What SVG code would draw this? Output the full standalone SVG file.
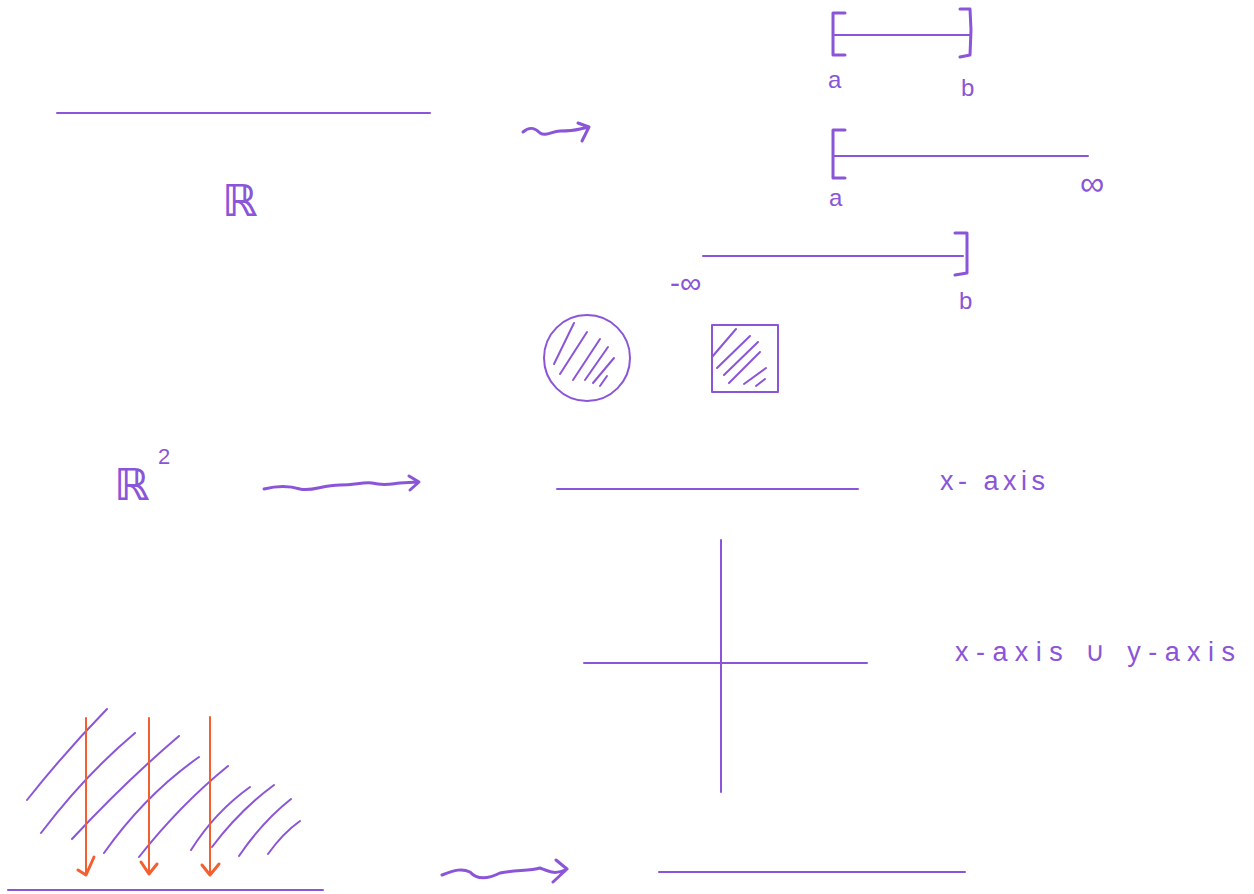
<svg xmlns="http://www.w3.org/2000/svg" width="1254" height="894" viewBox="0 0 1254 894">
<style>
.p{stroke:#8a55d8;fill:none;stroke-width:2;stroke-linecap:round;stroke-linejoin:round}
.h{stroke:#8a55d8;fill:none;stroke-width:2;stroke-linecap:round}
.o{stroke:#f2602f;fill:none;stroke-width:2;stroke-linecap:round;stroke-linejoin:round}
.oh{stroke:#f2602f;fill:none;stroke-width:3;stroke-linecap:round;stroke-linejoin:round}
.t{fill:#8a55d8;font-family:"Liberation Sans","DejaVu Sans",sans-serif;font-size:24px}
.big{fill:#8a55d8;font-family:"DejaVu Sans",sans-serif;font-size:44px;font-weight:bold}
.w{stroke:#8a55d8;fill:none;stroke-width:3;stroke-linecap:round;stroke-linejoin:round}
</style>
<rect width="1254" height="894" fill="#ffffff"/>
<g id="real-line">
<line class="p" x1="57" y1="113" x2="430" y2="113"/>
<text class="big" x="222" y="216">ℝ</text>
</g>
<g id="interval-ab">
<path class="w" d="M845,13 L833,13 L833,55 L845,55"/>
<line class="p" x1="833" y1="35" x2="970" y2="35"/>
<path class="w" d="M960,9 L970,9 L971,30 L970,55 L960,57"/>
<text class="t" x="828" y="88">a</text>
<text class="t" x="961" y="96">b</text>
</g>
<g id="interval-a-inf">
<path class="w" d="M845,130 L833,130 L833,178 L845,178"/>
<line class="p" x1="833" y1="156" x2="1088" y2="156"/>
<text class="t" x="829" y="206">a</text>
<text class="t" x="1080" y="195" style="font-size:34px">∞</text>
</g>
<g id="interval-inf-b">
<line class="p" x1="703" y1="256" x2="963" y2="256"/>
<path class="w" d="M955,233 L967,233 L967,273 L955,275"/>
<text class="t" x="670" y="293" style="font-size:30px">-∞</text>
<text class="t" x="959" y="309">b</text>
</g>
<g id="disk">
<circle class="p" cx="587" cy="358" r="43"/>
<path class="h" d="M554,364 L574,323 M560,374 L587,332 M573,380 L600,339 M585,380 L608,347 M593,383 L614,358 M600,386 L607,376"/>
</g>
<g id="square">
<rect class="p" x="712" y="325" width="66" height="67"/>
<path class="h" d="M712,357 L736,329 M717,368 L750,336 M724,375 L758,342 M729,383 L760,352 M744,384 L766,368 M756,386 L765,379"/>
</g>
<g id="r2">
<text class="big" x="114" y="500">ℝ</text>
<text class="t" x="158" y="464" style="font-size:22px">2</text>
</g>
<g id="x-axis">
<line class="p" x1="557" y1="489" x2="858" y2="489"/>
<text class="t" x="940" y="490" style="font-size:27px" textLength="105" lengthAdjust="spacing">x- axis</text>
</g>
<g id="axes">
<line class="p" x1="721" y1="540" x2="721" y2="792"/>
<line class="p" x1="584" y1="663" x2="867" y2="663"/>
<text class="t" x="955" y="661" style="font-size:27px" textLength="280" lengthAdjust="spacing">x-axis   ∪   y-axis</text>
</g>
<g id="projection">
<path class="h" d="M27,800 Q65,752 107,709 M41,833 Q85,775 135,733 M72,839 Q125,782 179,736 M104,853 Q145,795 199,757 M139,857 Q180,805 228,766 M191,850 Q215,812 250,787 M212,847 Q240,810 274,785 M239,856 Q262,822 291,799 M268,854 Q283,833 300,821"/>
<line class="o" x1="86" y1="718" x2="86" y2="873"/>
<line class="o" x1="149" y1="718" x2="149" y2="873"/>
<line class="o" x1="210" y1="717" x2="210" y2="873"/>
<path class="oh" d="M78,870 L86,875 L94,857"/>
<path class="oh" d="M141,862 L149,874 L157,864"/>
<path class="oh" d="M202,865 L210,875 L219,864"/>
<line class="p" x1="8" y1="890" x2="323" y2="890"/>
</g>
<g id="connectors">
<path class="w" d="M523,132 C530,126 535,128 540,133 C546,137 552,131 560,131 C567,131 572,131 580,129 L589,127 M578,123 L589,127 L582,141"/>
<path class="w" d="M264,489 C280,485 290,486 300,489 C312,492 322,485 340,485 C355,485 362,482 372,483 C384,486 390,484 400,483 L418,482 M409,476 L419,482 L410,490"/>
<path class="w" d="M442,875 C455,870 462,868 470,872 C478,881 490,878 500,873 C515,870 530,871 540,868 C550,872 555,875 567,869 M556,860 L567,869 L553,882"/>
<line class="p" x1="659" y1="872" x2="965" y2="872"/>
</g>
</svg>
